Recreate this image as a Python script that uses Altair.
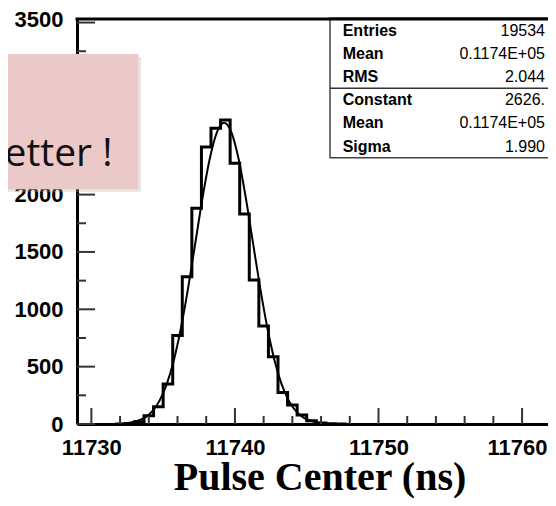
import altair as alt
import pandas as pd

# ---------------- data ----------------
# histogram: lower bin edges (ns) and bin contents (bin width 2/3 ns)
bin_lo = [11731.667, 11732.333, 11733.0, 11733.667, 11734.333, 11735.0,
          11735.667, 11736.333, 11737.0, 11737.667, 11738.333, 11739.0,
          11739.667, 11740.333, 11741.0, 11741.667, 11742.333, 11743.0,
          11743.667, 11744.333, 11745.0, 11745.667, 11746.333, 11747.0]
counts = [0, 4, 20, 72, 151, 349, 772, 1284, 1880, 2414, 2578, 2650,
          2273, 1830, 1255, 855, 587, 275, 166, 78, 28, 8, 3, 1]
bin_width = 2.0 / 3.0

# gaussian fit curve
fit_x = [11732.25, 11732.75, 11733.25, 11733.75, 11734.25, 11734.75, 11735.25,
         11735.75, 11736.25, 11736.75, 11737.25, 11737.75, 11738.25, 11738.75,
         11739.25, 11739.75, 11740.25, 11740.75, 11741.25, 11741.75, 11742.25,
         11742.75, 11743.25, 11743.75, 11744.25, 11744.75, 11745.25, 11745.75,
         11746.25]
fit_y = [5, 13, 28, 58, 112, 204, 348, 559, 843, 1193, 1585, 1977, 2314, 2544,
         2626, 2544, 2314, 1977, 1585, 1193, 843, 559, 348, 204, 112, 58, 28,
         13, 5]

# axis ticks / labels (2500 and 3000 are hidden behind the note box)
x_labels = [11730, 11740, 11750, 11760]
x_minor = [11732, 11734, 11736, 11738, 11742, 11744, 11746, 11748,
           11752, 11754, 11756, 11758]
y_labels = [0, 500, 1000, 1500, 2000, 3500]
y_major = [0, 500, 1000, 1500, 2000, 2500, 3000, 3500]
y_minor = [250, 750, 1250, 1750, 2250, 2750, 3250]

# stats box
stat_labels = ["Entries", "Mean", "RMS", "Constant", "Mean", "Sigma"]
stat_values = ["19534", "0.1174E+05", "2.044", "2626.", "0.1174E+05", "1.990"]

note_text = "Better !"
x_title = "Pulse Center (ns)"

# ---------------- layout ----------------
W, H = 471, 405
X_DOMAIN = [11729, 11729 + W / 14.357]
Y_DOMAIN = [0, 3531]

xs = alt.Scale(domain=X_DOMAIN, nice=False, zero=False)
ys = alt.Scale(domain=Y_DOMAIN, nice=False, zero=True)

x_axis = alt.Axis(values=x_labels, format="d", ticks=False, tickSize=0,
                  labelPadding=13, labelFont="Liberation Sans", labelFontSize=22,
                  labelFontWeight="bold", labelColor="black", labelFlush=False,
                  labelOverlap=False, domainColor="black", domainWidth=3,
                  labelOffset={"expr": "datum.value == 11760 ? -5 : 0"},
                  grid=False, title=x_title, titleFont="Liberation Serif",
                  titleFontSize=40, titleFontWeight="bold", titleColor="black",
                  titleX=242.5, titleY=65, titleBaseline="alphabetic",
                  titleAlign="center")
y_axis = alt.Axis(values=y_labels, format="d", ticks=False, tickSize=0,
                  labelPadding=14, labelFont="Liberation Sans", labelFontSize=22,
                  labelFontWeight="bold", labelColor="black", labelFlush=False,
                  labelOverlap=False, domainColor="black", domainWidth=3,
                  labelOffset={"expr": "datum.value == 3500 ? -3 : 0"},
                  grid=False, title=None)

X = lambda: alt.X("x:Q", scale=xs, axis=x_axis)
Y = lambda: alt.Y("y:Q", scale=ys, axis=y_axis)

hist_df = pd.DataFrame({
    "x": bin_lo + [bin_lo[-1] + bin_width, bin_lo[-1] + bin_width],
    "y": counts + [counts[-1], 0],
})
fit_df = pd.DataFrame({"x": fit_x, "y": fit_y})

hist = alt.Chart(hist_df).mark_line(interpolate="step-after", color="black",
                                    strokeWidth=3).encode(x=X(), y=Y())
fit = alt.Chart(fit_df).mark_line(interpolate="monotone", color="black",
                                  strokeWidth=2).encode(x=X(), y=Y())

tick_color = "#333333"
xt_major = alt.Chart(pd.DataFrame({"x": x_labels})).mark_rule(
    color=tick_color, strokeWidth=2).encode(x=X(), y=alt.value(H), y2=alt.value(H - 16))
xt_minor = alt.Chart(pd.DataFrame({"x": x_minor})).mark_rule(
    color=tick_color, strokeWidth=2).encode(x=X(), y=alt.value(H), y2=alt.value(H - 8))
yt_major = alt.Chart(pd.DataFrame({"y": y_major})).mark_rule(
    color=tick_color, strokeWidth=2).encode(y=Y(), x=alt.value(0), x2=alt.value(18))
yt_minor = alt.Chart(pd.DataFrame({"y": y_minor})).mark_rule(
    color=tick_color, strokeWidth=2).encode(y=Y(), x=alt.value(0), x2=alt.value(9))

one = pd.DataFrame({"a": [0]})

stats_box = alt.Chart(one).mark_rect(fill="white", stroke="#444444",
                                     strokeWidth=1.5).encode(
    x=alt.value(253), x2=alt.value(W + 10), y=alt.value(-1), y2=alt.value(138.7))
stats_div = alt.Chart(one).mark_rule(color="#333333", strokeWidth=1.5).encode(
    x=alt.value(253), x2=alt.value(W + 10), y=alt.value(69.3))
top_frame = alt.Chart(one).mark_rule(color="black", strokeWidth=3).encode(
    x=alt.value(-1.5), x2=alt.value(W + 5), y=alt.value(0))
stats_lab = alt.Chart(one).mark_text(
    text=stat_labels, lineHeight=23.1, align="left", baseline="middle",
    font="Liberation Sans", fontSize=16, fontWeight="bold", color="black").encode(
    x=alt.value(265.7), y=alt.value(12))
stats_val = alt.Chart(one).mark_text(
    text=stat_values, lineHeight=23.1, align="right", baseline="middle",
    font="Liberation Sans", fontSize=16, color="black").encode(
    x=alt.value(468), y=alt.value(12))

note_shadow = alt.Chart(one).mark_rect(color="#b0b0b0", opacity=0.3).encode(
    x=alt.value(-90), x2=alt.value(64), y=alt.value(38), y2=alt.value(173))
note_box = alt.Chart(one).mark_rect(color="#ECC9C9").encode(
    x=alt.value(-90), x2=alt.value(61.3), y=alt.value(35), y2=alt.value(170.3))
note = alt.Chart(one).mark_text(
    text=note_text, align="right", baseline="alphabetic", font="Open Sans",
    fontSize=39, color="#111111").encode(x=alt.value(35.5), y=alt.value(147))

chart = alt.layer(
    hist, fit, xt_major, xt_minor, yt_major, yt_minor,
    stats_box, stats_div, top_frame, stats_lab, stats_val,
    note_shadow, note_box, note,
).properties(
    width=W, height=H,
    autosize=alt.AutoSizeParams(type="none"),
    padding={"left": 69, "top": 11, "right": 0, "bottom": 74},
    background="white",
).configure_view(stroke="transparent")

chart.save("out.html", embed_options={"renderer": "svg", "actions": False})
